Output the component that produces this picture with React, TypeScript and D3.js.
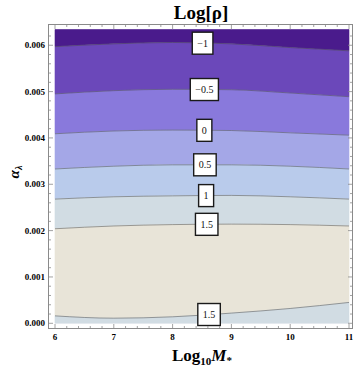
import React, { useEffect, useRef } from 'react'
import * as d3 from 'd3'

// tick values
const massTicks = [6, 7, 8, 9, 10, 11]
const alphaTicks = [0, 0.001, 0.002, 0.003, 0.004, 0.005, 0.006]

// contour lines of Log[rho], alpha_lambda (in units of 1e-3) sampled at these masses
const contourMass = [6, 7, 8, 9, 10, 11]
const lineM1 = [5.97, 6.03, 6.06, 6.03, 5.95, 5.88]
const lineM05 = [4.95, 5.02, 5.05, 5.04, 4.97, 4.89]
const line0 = [4.09, 4.15, 4.17, 4.16, 4.11, 4.06]
const line05 = [3.33, 3.39, 3.42, 3.42, 3.39, 3.33]
const line1 = [2.68, 2.73, 2.75, 2.76, 2.73, 2.68]
const line15top = [2.04, 2.1, 2.13, 2.14, 2.13, 2.1]
const line15bottom = [0.16, 0.11, 0.14, 0.22, 0.32, 0.45]

const alphaTop = 6.34 // upper edge of the plot, 1e-3
const topEdge = contourMass.map(() => alphaTop)
const bottomEdge = contourMass.map(() => 0)

// bands from top to bottom
const bands = [
  { upper: topEdge, lower: lineM1, color: '#4a1b8c' },
  { upper: lineM1, lower: lineM05, color: '#6b48ba' },
  { upper: lineM05, lower: line0, color: '#8979dc' },
  { upper: line0, lower: line05, color: '#a4a7e7' },
  { upper: line05, lower: line1, color: '#b9cbeb' },
  { upper: line1, lower: line15top, color: '#d1dce3' },
  { upper: line15top, lower: line15bottom, color: '#e8e4d8' },
  { upper: line15bottom, lower: bottomEdge, color: '#d1dce3' },
]

const contourLines = [lineM1, lineM05, line0, line05, line1, line15top, line15bottom]

const contourLabels = [
  { text: '−1', line: lineM1, mass: 8.51 },
  { text: '−0.5', line: lineM05, mass: 8.54 },
  { text: '0', line: line0, mass: 8.54 },
  { text: '0.5', line: line05, mass: 8.55 },
  { text: '1', line: line1, mass: 8.57 },
  { text: '1.5', line: line15top, mass: 8.58 },
  { text: '1.5', line: line15bottom, mass: 8.62 },
]

const serif = '"Liberation Serif", "DejaVu Serif", serif'

const charWidth = (c) => {
  if (c === '.') return 0.25
  if (c === '−') return 0.564
  return 0.5
}

const App = () => {
  const ref = useRef(null)

  useEffect(() => {
    const svg = d3.select(ref.current)
    svg.selectAll('*').remove()

    const frame = { left: 48.5, right: 352.5, top: 24.5, bottom: 328.5 }

    const x = d3.scaleLinear().domain([6, 11]).range([55, 349])
    const y = d3.scaleLinear().domain([0, alphaTop / 1000]).range([323.3, 29.5])

    const pts = (vals) => vals.map((v, i) => [contourMass[i], v / 1000])

    const area = d3.area()
      .x(d => x(d[0]))
      .y0(d => y(d[1]))
      .y1(d => y(d[2]))
      .curve(d3.curveMonotoneX)

    const line = d3.line()
      .x(d => x(d[0]))
      .y(d => y(d[1]))
      .curve(d3.curveMonotoneX)

    const plot = svg.append('g')

    bands.forEach((b) => {
      const rows = contourMass.map((m, i) => [m, b.lower[i] / 1000, b.upper[i] / 1000])
      plot.append('path')
        .attr('d', area(rows))
        .attr('fill', b.color)
        .attr('stroke', b.color)
        .attr('stroke-width', 0.6)
    })

    contourLines.forEach((l) => {
      plot.append('path')
        .attr('d', line(pts(l)))
        .attr('fill', 'none')
        .attr('stroke', 'rgba(70,70,70,0.55)')
        .attr('stroke-width', 0.9)
    })

    // labels sit on their contour
    contourLabels.forEach((lb) => {
      const yv = d3.scaleLinear().domain(contourMass).range(lb.line)(lb.mass)
      const cx = x(lb.mass)
      const cy = y(yv / 1000)
      const w = d3.sum(lb.text.split(''), charWidth) * 10 + 10
      const h = 22
      plot.append('rect')
        .attr('x', cx - w / 2)
        .attr('y', cy - h / 2)
        .attr('width', w)
        .attr('height', h)
        .attr('fill', '#fff')
        .attr('stroke', '#1a1a1a')
        .attr('stroke-width', 1.4)
      plot.append('text')
        .attr('x', cx)
        .attr('y', cy)
        .attr('text-anchor', 'middle')
        .attr('dominant-baseline', 'central')
        .attr('font-family', serif)
        .attr('font-size', 10)
        .attr('fill', '#111')
        .text(lb.text)
    })

    // frame
    svg.append('rect')
      .attr('x', frame.left)
      .attr('y', frame.top)
      .attr('width', frame.right - frame.left)
      .attr('height', frame.bottom - frame.top)
      .attr('fill', 'none')
      .attr('stroke', '#8a8a8a')
      .attr('stroke-width', 1)

    const ticks = svg.append('g').attr('stroke', '#8a8a8a').attr('stroke-width', 0.8)
    const xMinor = d3.range(6, 11.001, 0.2)
    xMinor.forEach((v) => {
      const major = Math.abs(v - Math.round(v)) < 1e-6
      const len = major ? 4.5 : 2.5
      ticks.append('line')
        .attr('x1', x(v)).attr('x2', x(v))
        .attr('y1', frame.bottom).attr('y2', frame.bottom - len)
      ticks.append('line')
        .attr('x1', x(v)).attr('x2', x(v))
        .attr('y1', frame.top).attr('y2', frame.top + len)
    })
    const yMinor = d3.range(0, alphaTop / 1000, 0.0002)
    yMinor.forEach((v, i) => {
      const major = i % 5 === 0
      const len = major ? 4.5 : 2.5
      ticks.append('line')
        .attr('x1', frame.left).attr('x2', frame.left + len)
        .attr('y1', y(v)).attr('y2', y(v))
      ticks.append('line')
        .attr('x1', frame.right).attr('x2', frame.right - len)
        .attr('y1', y(v)).attr('y2', y(v))
    })

    svg.append('g')
      .selectAll('text')
      .data(massTicks)
      .enter().append('text')
      .attr('x', d => x(d))
      .attr('y', 340)
      .attr('text-anchor', 'middle')
      .attr('font-family', serif)
      .attr('font-weight', 'bold')
      .attr('font-size', 9)
      .text(d => d)

    svg.append('g')
      .selectAll('text')
      .data(alphaTicks)
      .enter().append('text')
      .attr('x', 45)
      .attr('y', d => y(d) + 3)
      .attr('text-anchor', 'end')
      .attr('font-family', serif)
      .attr('font-weight', 'bold')
      .attr('font-size', 9)
      .text(d => d3.format('.3f')(d))
  }, [])

  return (
    <svg width={355} height={368} style={{ position: 'absolute', left: 0, top: 0, background: '#fff' }}>
      <g ref={ref} />
      <text x={201} y={19} textAnchor="middle" fontFamily={serif} fontWeight="bold" fontSize={19}>
        Log[ρ]
      </text>
      <text x={202} y={361} textAnchor="middle" fontFamily={serif} fontWeight="bold" fontSize={17}>
        Log
        <tspan fontSize={11} dy={4}>10</tspan>
        <tspan fontStyle="italic" dy={-4}>M</tspan>
        <tspan fontSize={11} dy={3}>*</tspan>
      </text>
      <text transform="translate(19,172) rotate(-90)" textAnchor="middle" fontFamily={serif} fontWeight="bold" fontStyle="italic" fontSize={15}>
        α
        <tspan fontSize={10} dy={3}>λ</tspan>
      </text>
    </svg>
  )
}

export default App
